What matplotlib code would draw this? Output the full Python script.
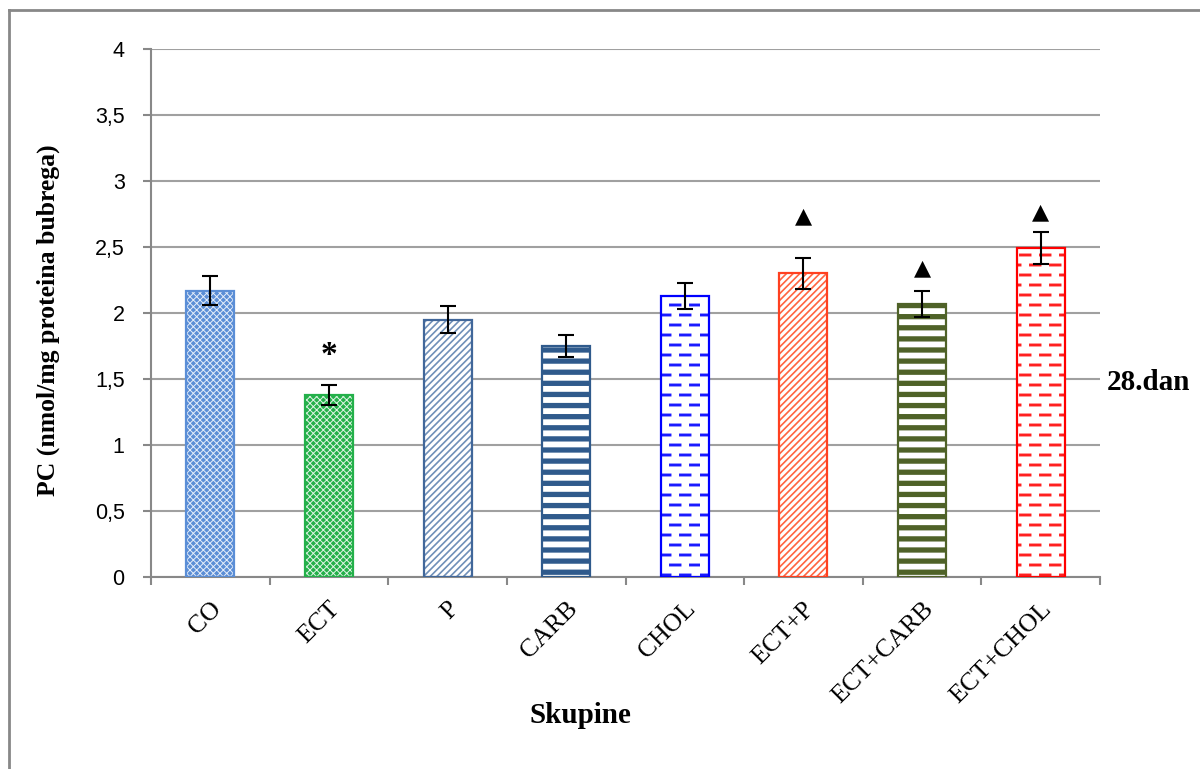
import warnings
import numpy as np
import matplotlib
matplotlib.use("Agg")
import matplotlib.pyplot as plt
import matplotlib.hatch as mhatch
from matplotlib.lines import Line2D
from matplotlib.ticker import FuncFormatter

warnings.filterwarnings("ignore")

# data
groups = ["CO", "ECT", "P", "CARB", "CHOL", "ECT+P", "ECT+CARB", "ECT+CHOL"]
pc_values = [2.17, 1.38, 1.95, 1.75, 2.13, 2.30, 2.07, 2.49]
pc_errors = [0.11, 0.075, 0.10, 0.085, 0.10, 0.12, 0.10, 0.12]
sig_marks = ["", "*", "", "", "", "\u25B2", "\u25B2", "\u25B2"]
sig_levels = [0, 1.68, 0, 0, 0, 2.73, 2.34, 2.76]


# extra hatch patterns: '_' = rows of short dashes, '=' = 9 horizontal stripes
class RowHatch(mhatch.HatchPatternBase):
    def __init__(self, hatch, density):
        self.dash = '_' in hatch
        self.stripe = '=' in hatch
        if self.dash:
            self.num_vertices = 10 * 5 * 2
        elif self.stripe:
            self.num_vertices = 9 * 2
        else:
            self.num_vertices = 0

    def set_vertices_and_codes(self, vertices, codes):
        k = 0
        if self.dash:
            for i in range(10):
                y = (i + 0.5) / 10
                off = (i % 2) * 0.1
                for j in range(5):
                    x0 = j * 0.2 + off + 0.005
                    vertices[k] = (x0, y)
                    vertices[k + 1] = (x0 + 0.095, y)
                    k += 2
        elif self.stripe:
            for i in range(9):
                y = (i + 0.5) / 9
                vertices[k] = (0.0, y)
                vertices[k + 1] = (1.0, y)
                k += 2
        codes[0::2] = 1  # MOVETO
        codes[1::2] = 2  # LINETO


mhatch._hatch_types.append(RowHatch)

# fill, hatch colour, hatch, hatch width, edge colour
styles = [
    ("#5b8ed6", "#e4edfa", "xxxxx", 0.7, "#5b8ed6"),
    ("#24b04a", "#e0f5e6", "xxxxx", 0.7, "#24b04a"),
    ("white", "#6f8fb8", "/////", 1.2, "#41679a"),
    ("white", "#2f5a8c", "=", 3.8, "#2f5a8c"),
    ("white", "#1a1aff", "_", 2.1, "#0000ff"),
    ("white", "#ff6440", "/////", 1.2, "#ff4020"),
    ("white", "#4f6228", "=", 3.8, "#4f6228"),
    ("white", "#ff2020", "_", 2.1, "#ff0000"),
]

plt.rcParams['font.family'] = ['Liberation Serif', 'DejaVu Sans']

fig = plt.figure(figsize=(12, 7.69), dpi=100)
ax = fig.add_axes([151 / 1200, 1 - 577 / 769, 949 / 1200, 528 / 769])

x = np.arange(len(groups))
for i, (fc, hc, hatch, hw, ec) in enumerate(styles):
    with plt.rc_context({'hatch.linewidth': hw}):
        b = ax.bar(x[i], pc_values[i], width=0.405, color=fc, edgecolor=hc,
                   hatch=hatch, linewidth=0, zorder=2)
    for p in b:
        if hasattr(p, 'set_hatch_linewidth'):
            p.set_hatch_linewidth(hw)
    ax.bar(x[i], pc_values[i], width=0.405, facecolor='none', edgecolor=ec,
           linewidth=1.6, zorder=3)

ax.errorbar(x, pc_values, yerr=pc_errors, fmt='none', ecolor='black',
            elinewidth=1.5, capsize=6, capthick=1.5, zorder=5)

for i, m in enumerate(sig_marks):
    if m == "*":
        ax.text(x[i], sig_levels[i], m, ha='center', va='center', fontsize=24,
                fontweight='bold')
    elif m:
        ax.text(x[i], sig_levels[i], m, ha='center', va='center', fontsize=16,
                family='DejaVu Sans')

ax.set_xlim(-0.5, len(groups) - 0.5)
ax.set_ylim(0, 4)
ax.set_yticks(np.arange(0, 4.01, 0.5))
ax.yaxis.set_major_formatter(FuncFormatter(
    lambda v, _: ('%g' % v).replace('.', ',')))
ax.yaxis.grid(True, color='#a0a0a0', linewidth=1.5)
ax.set_axisbelow(True)

ax.set_xticks(np.arange(len(groups) + 1) - 0.5)
ax.set_xticklabels([])
ax.set_xticks(x, minor=True)
ax.set_xticklabels(groups, minor=True, rotation=45, ha='right',
                   rotation_mode='anchor', fontsize=18.5)
ax.tick_params(axis='x', which='minor', length=0, pad=15)
ax.tick_params(axis='x', which='major', length=6, width=1.5, color='#888888')
ax.tick_params(axis='y', length=6, width=1.5, color='#888888', pad=13)
for lab in ax.get_yticklabels():
    lab.set_family('Liberation Sans')
    lab.set_fontsize(15.5)

for s in ['top', 'right']:
    ax.spines[s].set_visible(False)
for s in ['left', 'bottom']:
    ax.spines[s].set_color('#888888')
    ax.spines[s].set_linewidth(1.5)

ax.set_xlabel('Skupine', fontsize=21, fontweight='bold', va='center')
ax.set_ylabel('PC (nmol/mg proteina bubrega)', fontsize=18.5,
              fontweight='bold', va='center')
ax.xaxis.set_label_coords(0.452, -0.263)
ax.yaxis.set_label_coords(-0.1085, 0.487)

fig.text(1107 / 1200, 1 - 383 / 769, '28.dan', fontsize=21, fontweight='bold',
         ha='left', va='center')

# outer chart frame
fig.add_artist(Line2D([9 / 1200, 9 / 1200], [0, 1 - 10 / 769],
                      color='#888888', linewidth=2))
fig.add_artist(Line2D([9 / 1200, 1], [1 - 10 / 769, 1 - 10 / 769],
                      color='#888888', linewidth=2))

fig.savefig('out.png', dpi=100)
